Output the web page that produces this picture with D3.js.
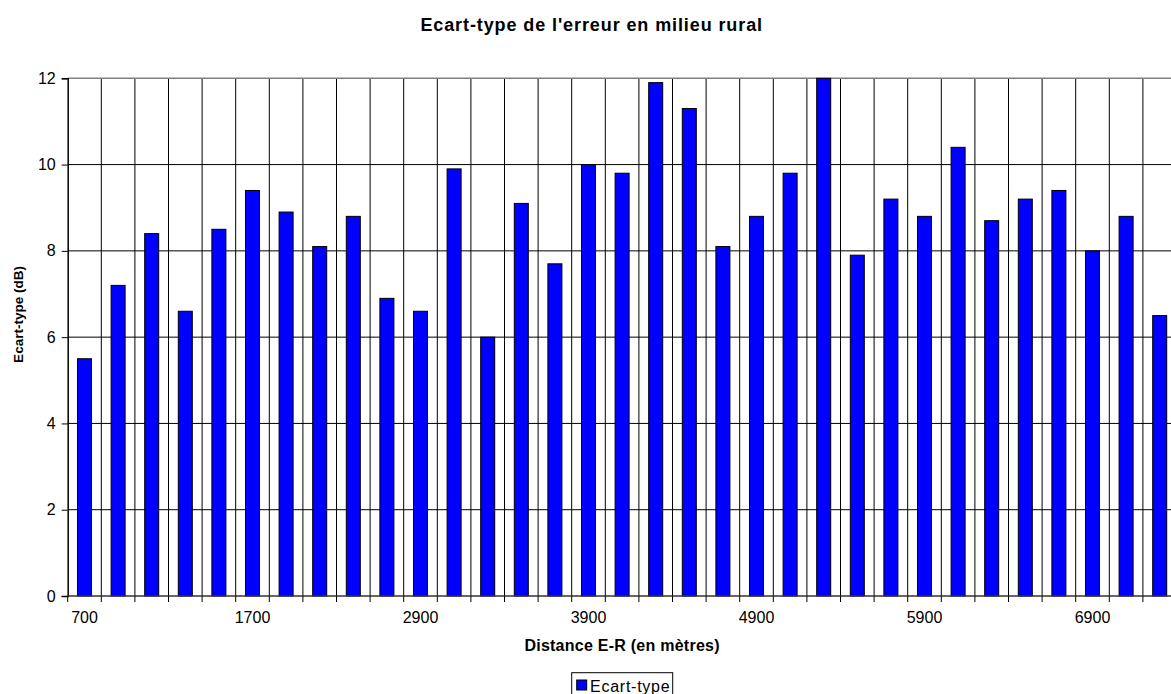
<!DOCTYPE html>
<html>
<head>
<meta charset="utf-8">
<script src="https://cdn.jsdelivr.net/npm/d3@7"></script>
<style>
  html, body { margin: 0; padding: 0; background: #fff; }
  svg { display: block; font-family: "Liberation Sans", Arial, sans-serif; }
</style>
</head>
<body>
<svg id="chart" width="1171" height="694"></svg>
<script>
// ---- data ----
const categories = [700, 900, 1100, 1300, 1500, 1700, 1900, 2100, 2300, 2500,
  2900, 3100, 3300, 3500, 3700, 3900, 4100, 4300, 4500, 4700,
  4900, 5100, 5300, 5500, 5700, 5900, 6100, 6300, 6500, 6700,
  6900, 7100, 7300];
const ecartType = [5.5, 7.2, 8.4, 6.6, 8.5, 9.4, 8.9, 8.1, 8.8, 6.9,
  6.6, 9.9, 6.0, 9.1, 7.7, 10.0, 9.8, 11.9, 11.3, 8.1,
  8.8, 9.8, 12.0, 7.9, 9.2, 8.8, 10.4, 8.7, 9.2, 9.4,
  8.0, 8.8, 6.5];
const yTicks = [0, 2, 4, 6, 8, 10, 12];
const xTickLabels = [700, 1700, 2900, 3900, 4900, 5900, 6900];
const seriesName = "Ecart-type";
const title = "Ecart-type de l'erreur en milieu rural";
const xTitle = "Distance E-R (en mètres)";
const yTitle = "Ecart-type (dB)";

// ---- layout ----
const svg = d3.select("#chart");
const plot = { left: 67.7, right: 1176.5, top: 78.3, bottom: 596 };

const x = d3.scaleBand().domain(categories).range([plot.left, plot.right]).padding(0);
const y = d3.scaleLinear().domain([0, 12]).range([plot.bottom, plot.top]);
const bw = x.bandwidth();
const barW = bw * 0.417;

// horizontal gridlines
svg.append("g").selectAll("line").data(yTicks.filter(d => d > 0 && d < 12)).join("line")
  .attr("x1", plot.left).attr("x2", plot.right)
  .attr("y1", d => y(d)).attr("y2", d => y(d))
  .attr("stroke", "#000").attr("stroke-width", 1);

// vertical gridlines at band boundaries
svg.append("g").selectAll("line").data(categories.slice(1)).join("line")
  .attr("x1", d => x(d)).attr("x2", d => x(d))
  .attr("y1", plot.top).attr("y2", plot.bottom)
  .attr("stroke", "#000").attr("stroke-width", 1);

// plot border top
svg.append("line")
  .attr("x1", plot.left).attr("x2", plot.right)
  .attr("y1", y(12)).attr("y2", y(12))
  .attr("stroke", "#808080").attr("stroke-width", 1.5);

// bars
svg.append("g").selectAll("rect").data(categories).join("rect")
  .attr("x", d => x(d) + (bw - barW) / 2)
  .attr("y", (d, i) => y(ecartType[i]))
  .attr("width", barW)
  .attr("height", (d, i) => y(0) - y(ecartType[i]))
  .attr("fill", "#0000ff")
  .attr("stroke", "#000").attr("stroke-width", 1);

// y axis
const yAxis = d3.axisLeft(y).tickValues(yTicks).tickSize(6).tickPadding(6).tickFormat(d3.format("d"));
const gy = svg.append("g").attr("transform", `translate(${plot.left},0)`).call(yAxis);
gy.select(".domain").attr("stroke", "#000").attr("stroke-width", 1.5);
gy.selectAll(".tick line").attr("stroke", "#000");
gy.selectAll(".tick text").attr("font-size", 16).attr("fill", "#000")
  .attr("font-family", "Liberation Sans, Arial, sans-serif");

// x axis baseline
svg.append("line")
  .attr("x1", plot.left).attr("x2", plot.right)
  .attr("y1", plot.bottom).attr("y2", plot.bottom)
  .attr("stroke", "#333").attr("stroke-width", 1.5);

// x tick marks at band boundaries
svg.append("g").selectAll("line").data(categories).join("line")
  .attr("x1", d => x(d)).attr("x2", d => x(d))
  .attr("y1", plot.bottom).attr("y2", plot.bottom + 6)
  .attr("stroke", "#000");

// x tick labels
const xAxis = d3.axisBottom(x).tickValues(xTickLabels).tickSize(0).tickPadding(16);
const gx = svg.append("g").attr("transform", `translate(0,${plot.bottom})`).call(xAxis);
gx.select(".domain").remove();
gx.selectAll(".tick text").attr("font-size", 16).attr("fill", "#000")
  .attr("font-family", "Liberation Sans, Arial, sans-serif");

// titles
svg.append("text").attr("x", 591.7).attr("y", 31)
  .attr("text-anchor", "middle").attr("font-size", 18).attr("font-weight", "bold")
  .attr("letter-spacing", 0.9)
  .text(title);

svg.append("text").attr("x", (plot.left + plot.right) / 2).attr("y", 651)
  .attr("text-anchor", "middle").attr("font-size", 16).attr("font-weight", "bold")
  .attr("letter-spacing", 0.25)
  .text(xTitle);

svg.append("text")
  .attr("transform", `translate(23,314.5) rotate(-90)`)
  .attr("text-anchor", "middle").attr("font-size", 13.5).attr("font-weight", "bold")
  .text(yTitle);

// legend
const lg = svg.append("g");
lg.append("rect").attr("x", 571.7).attr("y", 672.7).attr("width", 101).attr("height", 30)
  .attr("fill", "#fff").attr("stroke", "#000").attr("stroke-width", 1);
lg.append("rect").attr("x", 576.7).attr("y", 680).attr("width", 10).attr("height", 10)
  .attr("fill", "#0000ff").attr("stroke", "#000").attr("stroke-width", 1);
lg.append("text").attr("x", 590).attr("y", 692).attr("font-size", 16)
  .attr("letter-spacing", 0.75)
  .text(seriesName);
</script>
</body>
</html>
